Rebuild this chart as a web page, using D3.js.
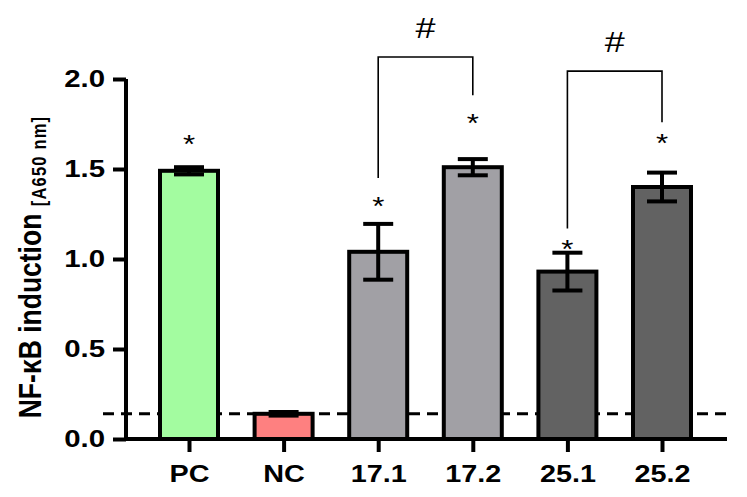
<!DOCTYPE html>
<html>
<head>
<meta charset="utf-8">
<script src="https://cdn.jsdelivr.net/npm/d3@7"></script>
<style>
  body { margin: 0; background: #fff; }
  svg { display: block; font-family: "Liberation Sans", Arial, sans-serif; }
</style>
</head>
<body>
<div id="app"></div>
<script>
const groups = ['PC', 'NC', '17.1', '17.2', '25.1', '25.2']
const means = [1.49, 0.14, 1.04, 1.51, 0.93, 1.40]
const errs = [0.02, 0.01, 0.155, 0.045, 0.105, 0.08]
const fills = ['#a3fca0', '#fe8080', '#a1a0a5', '#a1a0a5', '#626262', '#626262']
const starAt = [1.67, null, 1.33, 1.79, 1.09, 1.68]
const yTicks = [0.0, 0.5, 1.0, 1.5, 2.0]
const baseline = 0.14
// bracket: compared groups, top value, end values of the legs
const brackets = [
  { a: '17.1', b: '17.2', top: 2.122, leftEnd: 1.45, rightEnd: 1.91 },
  { a: '25.1', b: '25.2', top: 2.044, leftEnd: 1.17, rightEnd: 1.76 }
]

const W = 747, H = 497
const SX = 1.2 // picture is stretched sideways
const svg = d3.select('#app').append('svg').attr('width', W).attr('height', H)

const y = d3.scaleLinear().domain([0, 2]).range([439, 79])
const x = d3.scalePoint().domain(groups).range([189, 662])
const barW = 58

// dashed reference line
svg.append('line')
  .attr('x1', 103).attr('x2', 726)
  .attr('y1', y(baseline)).attr('y2', y(baseline))
  .attr('stroke', '#000').attr('stroke-width', 3)
  .attr('stroke-dasharray', '11,7')

let data = groups.map((g, i) => ({ g, m: means[i], e: errs[i], fill: fills[i], star: starAt[i] }))

// bars
svg.selectAll('rect.bar').data(data).enter().append('rect')
  .attr('class', 'bar')
  .attr('x', d => x(d.g) - barW / 2)
  .attr('y', d => y(d.m))
  .attr('width', barW)
  .attr('height', d => y(0) - y(d.m))
  .attr('fill', d => d.fill)
  .attr('stroke', '#000')
  .attr('stroke-width', 4)

// error bars
let eb = svg.selectAll('g.err').data(data).enter().append('g').attr('class', 'err')
eb.append('line')
  .attr('x1', d => x(d.g)).attr('x2', d => x(d.g))
  .attr('y1', d => y(d.m - d.e)).attr('y2', d => y(d.m + d.e))
  .attr('stroke', '#000').attr('stroke-width', 4)
eb.selectAll('line.cap').data(d => [d.m - d.e, d.m + d.e].map(v => ({ g: d.g, v }))).enter()
  .append('line').attr('class', 'cap')
  .attr('x1', d => x(d.g) - 15).attr('x2', d => x(d.g) + 15)
  .attr('y1', d => y(d.v)).attr('y2', d => y(d.v))
  .attr('stroke', '#000').attr('stroke-width', 4)

// asterisks
svg.selectAll('text.star').data(data.filter(d => d.star != null)).enter().append('text')
  .attr('class', 'star')
  .attr('transform', d => `translate(${x(d.g)},${y(d.star) + 15}) scale(${SX},1)`)
  .attr('text-anchor', 'middle')
  .attr('font-size', 26)
  .text('*')

// significance brackets
brackets.forEach(b => {
  let xa = x(b.a), xb = x(b.b)
  svg.append('path')
    .attr('d', `M${xa},${y(b.leftEnd)}V${y(b.top)}H${xb}V${y(b.rightEnd)}`)
    .attr('fill', 'none').attr('stroke', '#000').attr('stroke-width', 1.6)
  svg.append('text')
    .attr('transform', `translate(${(xa + xb) / 2},${y(b.top) - 19}) scale(${SX},1)`)
    .attr('text-anchor', 'middle')
    .attr('font-size', 30)
    .text('#')
})

// y axis
let yAxis = svg.append('g').attr('transform', 'translate(126,0)')
  .call(d3.axisLeft(y).tickValues(yTicks).tickFormat(d3.format('.1f')).tickSize(13).tickPadding(8))
yAxis.select('.domain').attr('stroke-width', 4).attr('d', `M0,${y(2)}V${y(0) + 2}`)
yAxis.selectAll('.tick line').attr('stroke-width', 4)
yAxis.selectAll('.tick text')
  .attr('x', 0)
  .attr('transform', `translate(-21,0) scale(${SX},1)`)
  .attr('font-size', 24.5).attr('font-weight', 'bold').attr('fill', '#000')
  .attr('font-family', '"Liberation Sans", Arial, sans-serif')

// x axis
let xAxis = svg.append('g').attr('transform', `translate(0,${y(0)})`)
  .call(d3.axisBottom(x).tickSize(13).tickPadding(13))
xAxis.select('.domain').attr('stroke-width', 4).attr('d', `M124,0H727`)
xAxis.selectAll('.tick line').attr('stroke-width', 4)
xAxis.selectAll('.tick text')
  .attr('transform', `scale(${SX},1)`)
  .attr('font-size', 24).attr('font-weight', 'bold').attr('fill', '#000')
  .attr('font-family', '"Liberation Sans", Arial, sans-serif')

// y label
let lab = svg.append('text')
  .attr('transform', `translate(41,267) rotate(-90) scale(1,${SX})`)
  .attr('text-anchor', 'middle')
  .attr('font-weight', 'bold')
lab.append('tspan').attr('font-size', 26.5).text('NF-κB induction ')
lab.append('tspan').attr('font-size', 16.5).attr('dy', 4).attr('letter-spacing', 1.2).text('[A650 nm]')
</script>
</body>
</html>
